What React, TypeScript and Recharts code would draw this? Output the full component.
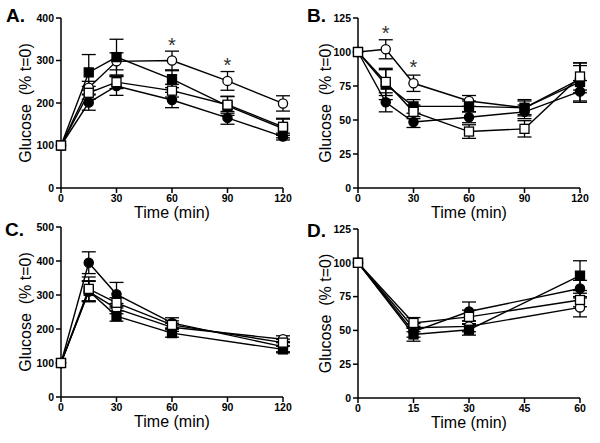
import { LineChart, Line, XAxis, YAxis, ErrorBar, Label } from 'recharts';

const FONT = '"Liberation Sans", Arial, sans-serif';

// Panel A
const timesA = [0, 15, 30, 60, 90, 120];
const aFilledSq = [100, 272, 308, 256, 193, 140];
const aFilledSqErr = [0, 42, 42, 20, 22, 22];
const aFilledCirc = [100, 201, 240, 207, 165, 121];
const aFilledCircErr = [0, 18, 22, 18, 15, 8];
const aOpenSq = [100, 224, 249, 229, 196, 144];
const aOpenSqErr = [0, 15, 15, 15, 20, 20];
const aOpenCirc = [100, 236, 298, 300, 252, 199];
const aOpenCircErr = [0, 15, 20, 22, 22, 18];
const aStars = [false, false, false, true, true, false];

// Panel B
const timesB = [0, 15, 30, 60, 90, 120];
const bFilledSq = [100, 76, 60, 60, 59, 78];
const bFilledSqErr = [0, 11, 5, 4, 6, 14];
const bFilledCirc = [100, 63, 48.5, 52, 56, 71];
const bFilledCircErr = [0, 7, 4, 4, 5, 8];
const bOpenSq = [100, 78, 56, 41.5, 43.5, 82];
const bOpenSqErr = [0, 10, 5, 5, 6, 10];
const bOpenCirc = [100, 102, 77, 64, 59, 80];
const bOpenCircErr = [0, 7, 6, 4, 5, 10];
const bStars = [false, true, true, false, false, false];

// Panel C
const timesC = [0, 15, 30, 60, 120];
const cFilledSq = [100, 312, 238, 188, 140];
const cFilledSqErr = [0, 30, 15, 12, 10];
const cFilledCirc = [100, 395, 302, 218, 148];
const cFilledCircErr = [0, 32, 35, 15, 15];
const cOpenSq = [100, 318, 277, 212, 160];
const cOpenSqErr = [0, 35, 15, 12, 10];
const cOpenCirc = [100, 310, 260, 205, 170];
const cOpenCircErr = [0, 30, 15, 12, 10];
const cStars = [false, false, false, false, false];

// Panel D
const timesD = [0, 15, 30, 60];
const dFilledSq = [100, 47, 50.5, 90.5];
const dFilledSqErr = [0, 5, 4, 11];
const dFilledCirc = [100, 49, 64, 81];
const dFilledCircErr = [0, 4, 7, 6];
const dOpenSq = [100, 55.5, 60, 72.5];
const dOpenSqErr = [0, 4, 5, 5];
const dOpenCirc = [100, 52, 53, 67];
const dOpenCircErr = [0, 3, 4, 7];
const dStars = [false, false, false, false];

const ticks120 = [0, 30, 60, 90, 120];
const ticks60 = [0, 15, 30, 45, 60];
const ticks400 = [0, 100, 200, 300, 400];
const ticks500 = [0, 100, 200, 300, 400, 500];
const ticks125 = [0, 25, 50, 75, 100, 125];

function buildRows(times: number[], cols: Record<string, number[]>) {
  return times.map((t, i) => {
    const row: Record<string, number> = { t };
    Object.keys(cols).forEach((k) => {
      row[k] = cols[k][i];
    });
    return row;
  });
}

const makeDot = (shape: 'sq' | 'ci', filled: boolean) => (p: any) => {
  const { cx, cy, index } = p;
  if (cx == null || cy == null) return <g key={`e${index}`} />;
  const fill = filled ? '#000' : '#fff';
  if (shape === 'sq') {
    return (
      <rect key={`d${index}`} x={cx - 4.5} y={cy - 4.5} width={9} height={9}
        fill={fill} stroke="#000" strokeWidth={1.3} />
    );
  }
  return <circle key={`d${index}`} cx={cx} cy={cy} r={4.6} fill={fill} stroke="#000" strokeWidth={1.3} />;
};

interface PanelProps {
  letter: string;
  left: number;
  top: number;
  height: number;
  x0: number;
  x1: number;
  y0: number;
  y1: number;
  letterTop: number;
  letterLeft: number;
  rows: Record<string, number>[];
  xMax: number;
  xTicks: number[];
  yMax: number;
  yTicks: number[];
  stars: boolean[];
}

function Panel(props: PanelProps) {
  const { letter, left, top, height, x0, x1, y0, y1, rows, xMax, xTicks, yMax, yTicks, stars } = props;
  const tickStyle = { fill: '#000', fontSize: 10.5, fontWeight: 'bold', fontFamily: FONT };
  const axisStyle = { stroke: '#000', strokeWidth: 1.5 };
  const cy = (y0 + y1) / 2;

  const starLabel = (p: any) => {
    if (!stars[p.index]) return <g key={`s${p.index}`} />;
    return (
      <text key={`s${p.index}`} x={p.x} y={p.y - 9} textAnchor="middle" fontSize={20}
        fontFamily={FONT} fill="#333">*</text>
    );
  };

  return (
    <div style={{ position: 'absolute', left, top, width: 300, height }}>
      <div style={{
        position: 'absolute', left: props.letterLeft, top: props.letterTop, fontFamily: FONT,
        fontWeight: 'bold', fontSize: 19, lineHeight: '19px', color: '#000',
      }}>{letter}</div>
      <LineChart width={300} height={height} data={rows}
        margin={{ top: y0, right: 300 - x1, bottom: 0, left: 0 }}>
        <XAxis dataKey="t" type="number" domain={[0, xMax]} ticks={xTicks} height={height - y1}
          tick={tickStyle} tickSize={5} tickMargin={2} axisLine={axisStyle} tickLine={axisStyle}>
          <Label content={() => (
            <text x={(x0 + x1) / 2} y={y1 + 30} textAnchor="middle" fontSize={16}
              fontFamily={FONT} fill="#000">Time (min)</text>
          )} />
        </XAxis>
        <YAxis type="number" domain={[0, yMax]} ticks={yTicks} width={x0}
          tick={tickStyle} tickSize={5} tickMargin={2} axisLine={axisStyle} tickLine={axisStyle}>
          <Label content={() => (
            <text x={25} y={cy} transform={`rotate(-90 25 ${cy})`} textAnchor="middle"
              dominantBaseline="central" fontSize={16} fontFamily={FONT} fill="#000"
              style={{ whiteSpace: 'pre' }}>{'Glucose  (% t=0)'}</text>
          )} />
        </YAxis>
        <Line dataKey="oci" stroke="#000" strokeWidth={1.4} isAnimationActive={false}
          dot={makeDot('ci', false)} activeDot={false} label={starLabel}>
          <ErrorBar dataKey="ociErr" width={7} stroke="#000" strokeWidth={1.3} direction="y" isAnimationActive={false} />
        </Line>
        <Line dataKey="fci" stroke="#000" strokeWidth={1.4} isAnimationActive={false}
          dot={makeDot('ci', true)} activeDot={false}>
          <ErrorBar dataKey="fciErr" width={7} stroke="#000" strokeWidth={1.3} direction="y" isAnimationActive={false} />
        </Line>
        <Line dataKey="fsq" stroke="#000" strokeWidth={1.4} isAnimationActive={false}
          dot={makeDot('sq', true)} activeDot={false}>
          <ErrorBar dataKey="fsqErr" width={7} stroke="#000" strokeWidth={1.3} direction="y" isAnimationActive={false} />
        </Line>
        <Line dataKey="osq" stroke="#000" strokeWidth={1.4} isAnimationActive={false}
          dot={makeDot('sq', false)} activeDot={false}>
          <ErrorBar dataKey="osqErr" width={7} stroke="#000" strokeWidth={1.3} direction="y" isAnimationActive={false} />
        </Line>
      </LineChart>
    </div>
  );
}

const rowsA = buildRows(timesA, {
  fsq: aFilledSq, fsqErr: aFilledSqErr, fci: aFilledCirc, fciErr: aFilledCircErr,
  osq: aOpenSq, osqErr: aOpenSqErr, oci: aOpenCirc, ociErr: aOpenCircErr,
});
const rowsB = buildRows(timesB, {
  fsq: bFilledSq, fsqErr: bFilledSqErr, fci: bFilledCirc, fciErr: bFilledCircErr,
  osq: bOpenSq, osqErr: bOpenSqErr, oci: bOpenCirc, ociErr: bOpenCircErr,
});
const rowsC = buildRows(timesC, {
  fsq: cFilledSq, fsqErr: cFilledSqErr, fci: cFilledCirc, fciErr: cFilledCircErr,
  osq: cOpenSq, osqErr: cOpenSqErr, oci: cOpenCirc, ociErr: cOpenCircErr,
});
const rowsD = buildRows(timesD, {
  fsq: dFilledSq, fsqErr: dFilledSqErr, fci: dFilledCirc, fciErr: dFilledCircErr,
  osq: dOpenSq, osqErr: dOpenSqErr, oci: dOpenCirc, ociErr: dOpenCircErr,
});

export default function App() {
  return (
    <div style={{ position: 'absolute', left: 0, top: 0, width: 600, height: 443, background: '#fff', overflow: 'hidden' }}>
      <Panel letter="A." left={0} top={0} height={222} x0={61} x1={283} y0={18} y1={188}
        letterLeft={6} letterTop={6} rows={rowsA} xMax={120} xTicks={ticks120}
        yMax={400} yTicks={ticks400} stars={aStars} />
      <Panel letter="B." left={300} top={0} height={222} x0={58} x1={280} y0={18} y1={188}
        letterLeft={7} letterTop={6} rows={rowsB} xMax={120} xTicks={ticks120}
        yMax={125} yTicks={ticks125} stars={bStars} />
      <Panel letter="C." left={0} top={220} height={223} x0={61} x1={283} y0={7} y1={177}
        letterLeft={5} letterTop={0} rows={rowsC} xMax={120} xTicks={ticks120}
        yMax={500} yTicks={ticks500} stars={cStars} />
      <Panel letter="D." left={300} top={220} height={223} x0={58} x1={280} y0={9} y1={178}
        letterLeft={7} letterTop={1} rows={rowsD} xMax={60} xTicks={ticks60}
        yMax={125} yTicks={ticks125} stars={dStars} />
    </div>
  );
}
